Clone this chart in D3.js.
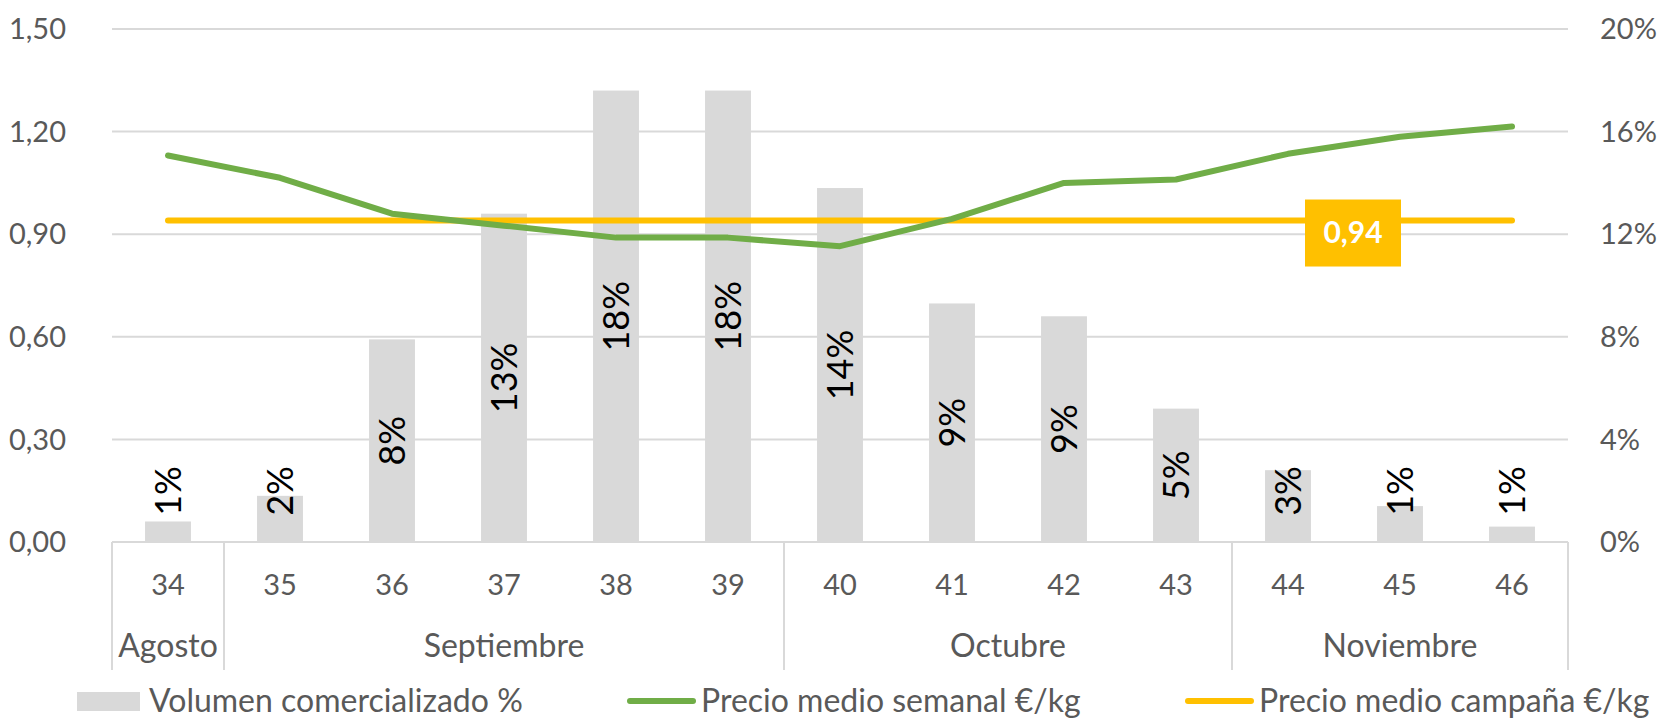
<!DOCTYPE html>
<html>
<head>
<meta charset="utf-8">
<script src="https://cdn.jsdelivr.net/npm/d3@7"></script>
<style>
  body { margin: 0; background: #fff; }
  svg text { font-family: Lato, "Open Sans", sans-serif; }
  .tick-lbl { fill: #595959; font-size: 29px; }
  .month-lbl { fill: #595959; font-size: 32px; }
  .bar-lbl { fill: #000; font-size: 36px; }
  .legend-lbl { fill: #595959; font-size: 32px; }
</style>
</head>
<body>
<svg id="chart"></svg>
<script>
// weeks and months
const weeks = ['34','35','36','37','38','39','40','41','42','43','44','45','46'];
const months = [
  {name: 'Agosto', from: 0, to: 1},
  {name: 'Septiembre', from: 1, to: 6},
  {name: 'Octubre', from: 6, to: 10},
  {name: 'Noviembre', from: 10, to: 13}
];
// volume share per week (right axis)
const volumen = [0.008, 0.018, 0.079, 0.128, 0.176, 0.176, 0.138, 0.093, 0.088, 0.052, 0.028, 0.014, 0.006];
const volumenLabels = ['1%','2%','8%','13%','18%','18%','14%','9%','9%','5%','3%','1%','1%'];
// weekly average price €/kg (left axis)
const precioSemanal = [1.13, 1.065, 0.96, 0.925, 0.89, 0.89, 0.865, 0.945, 1.05, 1.06, 1.135, 1.185, 1.215];
const precioCampana = 0.94;
const leftTicks = [0, 0.3, 0.6, 0.9, 1.2, 1.5];
const rightTicks = [0, 0.04, 0.08, 0.12, 0.16, 0.20];

const W = 1667, H = 722;
const m = {left: 112, right: 1568, top: 29, bottom: 542};

const svg = d3.select('#chart').attr('width', W).attr('height', H);

const x = d3.scaleBand().domain(weeks).range([m.left, m.right]);
const yL = d3.scaleLinear().domain([0, 1.5]).range([m.bottom, m.top]);
const yR = d3.scaleLinear().domain([0, 0.20]).range([m.bottom, m.top]);

const fmtL = d => d3.format('.2f')(d).replace('.', ',');
const fmtR = d3.format('.0%');

// gridlines
svg.append('g').selectAll('line')
  .data(leftTicks)
  .join('line')
    .attr('x1', m.left).attr('x2', m.right)
    .attr('y1', d => yL(d)).attr('y2', d => yL(d))
    .attr('stroke', '#d9d9d9').attr('stroke-width', 2);

// left axis labels
svg.append('g').selectAll('text')
  .data(leftTicks)
  .join('text')
    .attr('class', 'tick-lbl')
    .attr('x', 66).attr('y', d => yL(d))
    .attr('dy', '0.35em')
    .attr('text-anchor', 'end')
    .text(fmtL);

// right axis labels
svg.append('g').selectAll('text')
  .data(rightTicks)
  .join('text')
    .attr('class', 'tick-lbl')
    .attr('x', 1600).attr('y', d => yR(d))
    .attr('dy', '0.35em')
    .text(fmtR);

// bars
const bw = x.bandwidth() * 0.41;
svg.append('g').selectAll('rect')
  .data(volumen)
  .join('rect')
    .attr('x', (d, i) => x(weeks[i]) + (x.bandwidth() - bw) / 2)
    .attr('y', d => yR(d))
    .attr('width', bw)
    .attr('height', d => yR(0) - yR(d))
    .attr('fill', '#d9d9d9');

// bar labels, rotated; small bars get pushed up
svg.append('g').selectAll('text')
  .data(volumen)
  .join('text')
    .attr('class', 'bar-lbl')
    .attr('text-anchor', 'middle')
    .attr('dy', '0.35em')
    .attr('transform', (d, i) => {
      const cx = x(weeks[i]) + x.bandwidth() / 2;
      const cy = Math.min((yR(d) + yR(0)) / 2, yR(0) - 51);
      return `translate(${cx},${cy}) rotate(-90)`;
    })
    .text((d, i) => volumenLabels[i]);

// category axis: week labels, month labels, separators
const axisG = svg.append('g');
axisG.append('line')
  .attr('x1', m.left).attr('x2', m.right)
  .attr('y1', m.bottom).attr('y2', m.bottom)
  .attr('stroke', '#d9d9d9').attr('stroke-width', 2);
axisG.selectAll('.wk')
  .data(weeks)
  .join('text')
    .attr('class', 'tick-lbl wk')
    .attr('x', d => x(d) + x.bandwidth() / 2)
    .attr('y', 585).attr('dy', '0.35em')
    .attr('text-anchor', 'middle')
    .text(d => d);
const sepIdx = [0, 1, 6, 10, 13];
axisG.selectAll('.sep')
  .data(sepIdx)
  .join('line')
    .attr('class', 'sep')
    .attr('x1', i => m.left + i * x.step()).attr('x2', i => m.left + i * x.step())
    .attr('y1', m.bottom).attr('y2', 670)
    .attr('stroke', '#d9d9d9').attr('stroke-width', 2);
axisG.selectAll('.mo')
  .data(months)
  .join('text')
    .attr('class', 'month-lbl mo')
    .attr('x', d => m.left + (d.from + d.to) / 2 * x.step())
    .attr('y', 646).attr('dy', '0.35em')
    .attr('text-anchor', 'middle')
    .text(d => d.name);

// campaign average line
svg.append('line')
  .attr('x1', x(weeks[0]) + x.bandwidth() / 2)
  .attr('x2', x(weeks[weeks.length - 1]) + x.bandwidth() / 2)
  .attr('y1', yL(precioCampana)).attr('y2', yL(precioCampana))
  .attr('stroke', '#ffc000').attr('stroke-width', 6)
  .attr('stroke-linecap', 'round');

// weekly price line
const line = d3.line()
  .x((d, i) => x(weeks[i]) + x.bandwidth() / 2)
  .y(d => yL(d));
svg.append('path')
  .datum(precioSemanal)
  .attr('d', line)
  .attr('fill', 'none')
  .attr('stroke', '#70ad47').attr('stroke-width', 6)
  .attr('stroke-linecap', 'round').attr('stroke-linejoin', 'round');

// label box for campaign average
const bx = x('45') + 9, by = yL(precioCampana) + 12;
svg.append('rect')
  .attr('x', bx - 48).attr('y', by - 33)
  .attr('width', 96).attr('height', 67)
  .attr('fill', '#ffc000');
svg.append('text')
  .attr('x', bx).attr('y', by).attr('dy', '0.35em')
  .attr('text-anchor', 'middle')
  .style('fill', '#fff').style('font-size', '30px').style('font-weight', 'bold')
  .text(fmtL(precioCampana));

// legend
const lg = svg.append('g');
const ly = 701;
lg.append('rect').attr('x', 77).attr('y', ly - 9).attr('width', 63).attr('height', 19).attr('fill', '#d9d9d9');
lg.append('text').attr('class', 'legend-lbl').attr('x', 149).attr('y', ly).attr('dy', '0.35em')
  .text('Volumen comercializado %');
lg.append('line').attr('x1', 630).attr('x2', 693).attr('y1', ly).attr('y2', ly)
  .attr('stroke', '#70ad47').attr('stroke-width', 6).attr('stroke-linecap', 'round');
lg.append('text').attr('class', 'legend-lbl').attr('x', 701).attr('y', ly).attr('dy', '0.35em')
  .text('Precio medio semanal €/kg');
lg.append('line').attr('x1', 1188).attr('x2', 1251).attr('y1', ly).attr('y2', ly)
  .attr('stroke', '#ffc000').attr('stroke-width', 6).attr('stroke-linecap', 'round');
lg.append('text').attr('class', 'legend-lbl').attr('x', 1259).attr('y', ly).attr('dy', '0.35em')
  .text('Precio medio campaña €/kg');
</script>
</body>
</html>
